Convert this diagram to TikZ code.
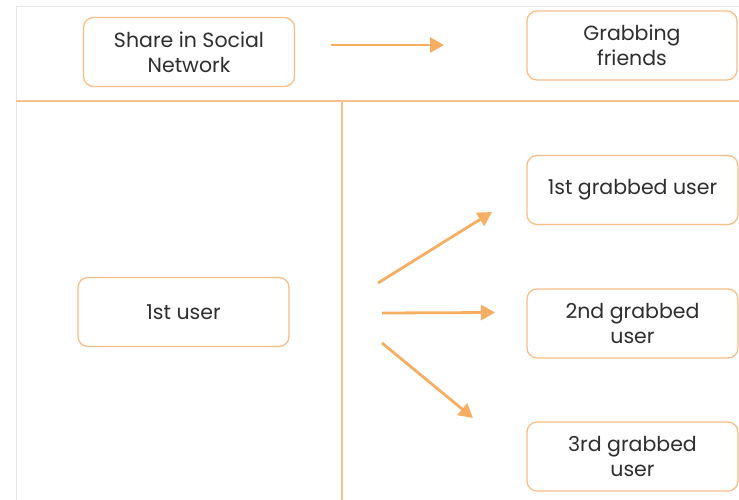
\documentclass[tikz,border=0pt]{standalone}
\usepackage{fontspec}
\setmainfont{Poppins}
\usetikzlibrary{arrows.meta}
\definecolor{boxc}{HTML}{F8BE86}
\definecolor{arrc}{HTML}{F5AE62}
\definecolor{linec}{HTML}{F7C08E}
\definecolor{framec}{HTML}{E6E6E6}
\definecolor{txt}{HTML}{2E2E2E}
\tikzset{
  card/.style={draw=boxc, line width=1.3pt, rounded corners=10pt, fill=white,
    minimum width=211pt, minimum height=69pt, align=center, text=txt,
    font=\fontsize{20.5}{25}\selectfont},
  flow/.style={draw=arrc, line width=2.8pt, -{Triangle[length=14pt,width=15pt]}}
}
\begin{document}
\begin{tikzpicture}[x=1pt,y=-1pt]
\useasboundingbox (0,0) rectangle (739,500);
\fill[white] (0,0) rectangle (739,500);
\draw[framec, line width=1pt] (16,500) -- (16,7) -- (739,7);
\draw[linec, line width=1.6pt] (16,101) -- (739,101);
\draw[linec, line width=1.6pt] (342,101) -- (342,500);
\node[card] (share) at (189,52) {Share in Social\\Network};
\node[card, minimum width=210pt] (grab) at (632,45.5) {Grabbing\\friends};
\node[card] (u1) at (183.5,312) {1st user};
\node[card] (g1) at (632.5,190) {1st grabbed user};
\node[card] (g2) at (632.5,323.5) {2nd grabbed\\user};
\node[card] (g3) at (632.5,456.5) {3rd grabbed\\user};
\coordinate (a0s) at (331,45); \coordinate (a0e) at (444,45);
\coordinate (a1s) at (378,283); \coordinate (a1e) at (492,212);
\coordinate (a2s) at (382,313); \coordinate (a2e) at (495,312.5);
\coordinate (a3s) at (382,343); \coordinate (a3e) at (473,418);
\draw[flow] (a0s) -- (a0e);
\draw[flow] (a1s) -- (a1e);
\draw[flow] (a2s) -- (a2e);
\draw[flow] (a3s) -- (a3e);
\end{tikzpicture}
\end{document}
